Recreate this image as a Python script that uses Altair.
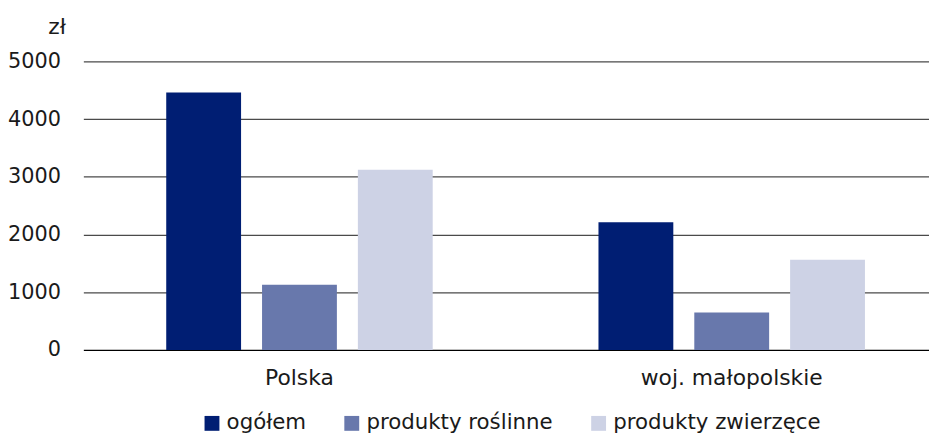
import altair as alt
import pandas as pd

regions = ["Polska", "woj. małopolskie"]
series = ["ogółem", "produkty roślinne", "produkty zwierzęce"]
ogolem = [4460, 2210]
roslinne = [1130, 650]
zwierzece = [3120, 1560]
colors = ["#001E73", "#6878AC", "#CDD2E5"]
y_ticks = [0, 1000, 2000, 3000, 4000, 5000]

rows = []
for i, r in enumerate(regions):
    for s, vals in zip(series, [ogolem, roslinne, zwierzece]):
        rows.append({"region": r, "seria": s, "wartosc": vals[i]})
df = pd.DataFrame(rows)

FONT = "DejaVu Sans"
FS = 22
TXT = "#1a1a1a"

bars = alt.Chart(df).mark_bar().encode(
    x=alt.X("region:N", sort=regions,
            scale=alt.Scale(paddingInner=0, paddingOuter=0, range=[0, 872]),
            axis=alt.Axis(title=None, labelAngle=0, domain=False, ticks=False,
                          labelPadding=18, labelFont=FONT, labelFontSize=FS,
                          labelColor=TXT, labelLimit=400)),
    xOffset=alt.XOffset("seria:N", sort=series,
                        scale=alt.Scale(paddingInner=0.219, paddingOuter=0.865)),
    y=alt.Y("wartosc:Q", scale=alt.Scale(domain=[0, 5000], nice=False),
            axis=alt.Axis(values=y_ticks, format="d", title="zł", titleAngle=0,
                          titleAlign="center", titleBaseline="middle",
                          titleX=-27, titleY=-35, titleFont=FONT,
                          titleFontSize=FS, titleFontWeight="normal",
                          titleColor=TXT,
                          domain=False, ticks=False, labelPadding=23,
                          labelFont=FONT, labelFontSize=21, labelColor=TXT,
                          grid=True,
                          gridColor={"condition": {"test": "datum.value === 0", "value": "#000000"},
                                     "value": "#4a4a4a"},
                          gridWidth=1.2)),
    color=alt.Color("seria:N", sort=series,
                    scale=alt.Scale(domain=series, range=colors),
                    legend=alt.Legend(title=None, orient="none", direction="horizontal",
                                      legendX=119, legendY=354,
                                      symbolType="square", symbolSize=225,
                                      symbolStrokeWidth=0, labelFont=FONT,
                                      labelFontSize=21.5, labelColor=TXT,
                                      columnPadding=35, labelOffset=4,
                                      labelLimit=400)),
)

chart = bars.properties(
    width=853, height=291,
    autosize=alt.AutoSizeParams(type="none"),
    padding={"left": 76, "top": 52, "right": 0, "bottom": 84},
).configure_view(stroke=None)

chart.save("out.html", embed_options={"renderer": "svg", "actions": False})
